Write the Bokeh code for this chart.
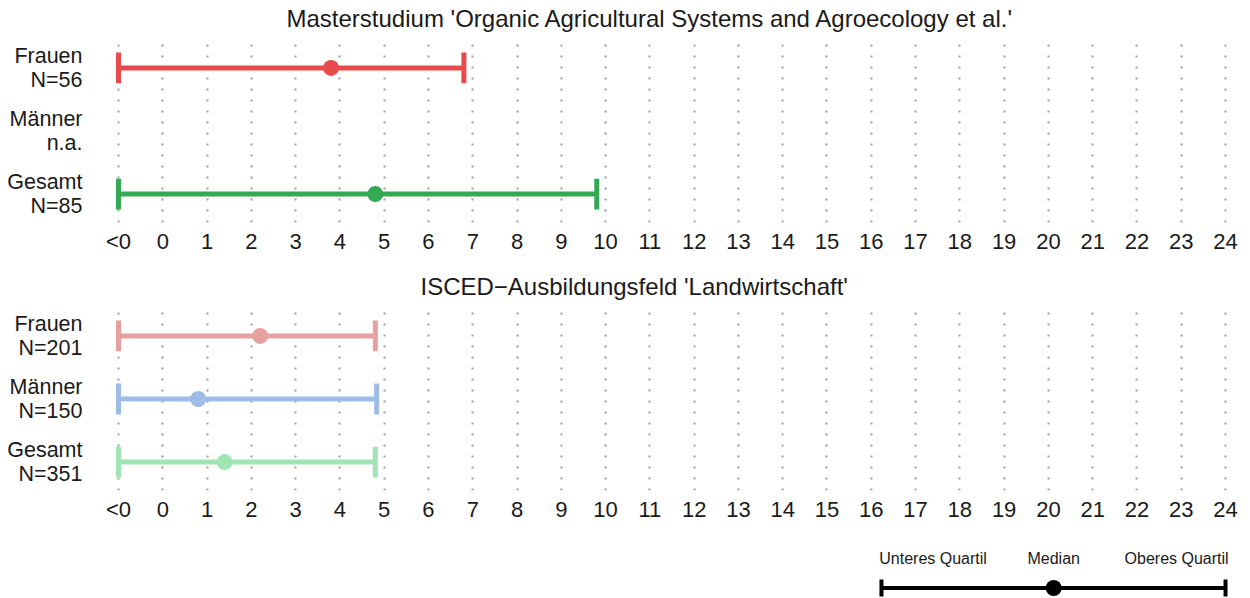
import math
from bokeh.plotting import figure
from bokeh.layouts import column
from bokeh.models import Range1d, FixedTicker, ColumnDataSource
from bokeh.core.properties import value
from bokeh.embed import file_html
from bokeh.resources import INLINE

FONT = "Liberation Sans"

# ---------------- data ----------------
groups = ["Frauen", "Männer", "Gesamt"]
group_pos = [2, 1, 0]

p1_title = "Masterstudium 'Organic Agricultural Systems and Agroecology et al.'"
p1_n = ["N=56", "n.a.", "N=85"]
p1_lower = [-1, math.nan, -1]        # -1 = "<0"
p1_median = [3.8, math.nan, 4.8]
p1_upper = [6.8, math.nan, 9.8]
p1_colors = ["#E84A4B", "#4A7FD0", "#34A853"]

p2_title = "ISCED\u2212Ausbildungsfeld 'Landwirtschaft'"
p2_n = ["N=201", "N=150", "N=351"]
p2_lower = [-1, -1, -1]
p2_median = [2.2, 0.8, 1.4]
p2_upper = [4.8, 4.83, 4.8]
p2_colors = ["#E6A0A0", "#9DBDE6", "#A0E6B4"]

x_ticks = list(range(-1, 25))
x_labels = {-1: "<0"}
for t in range(0, 25):
    x_labels[t] = str(t)

legend_labels = ["Unteres Quartil", "Median", "Oberes Quartil"]
legend_x = [16.23, 20.12, 24.0]

# ---------------- styling ----------------
FRAME_W = 1135
LEFT = 110
x_range = Range1d(-1.1807, 24.451)
CAP = 0.245
TEXT_COLOR = "#1a1a1a"


def blank(height):
    f = figure(frame_width=FRAME_W, frame_height=height, x_range=x_range,
               y_range=Range1d(0, height), output_backend="svg",
               toolbar_location=None, min_border_left=LEFT,
               min_border_right=0, min_border_top=0, min_border_bottom=0)
    f.axis.visible = False
    f.grid.visible = False
    f.outline_line_color = None
    return f


def title_fig(text, x_left):
    t = blank(39)
    t.text(x=[x_left], y=[21], text=[text], text_align="left",
           text_baseline="middle", text_font=value(FONT),
           text_font_size="24px", text_color=TEXT_COLOR)
    return t


def panel(ns, lower, median, upper, colors, border_bottom):
    p = figure(frame_width=FRAME_W, frame_height=183, x_range=x_range,
               y_range=Range1d(-0.45, 2.45), output_backend="svg",
               toolbar_location=None, min_border_left=LEFT,
               min_border_right=0, min_border_top=0,
               min_border_bottom=border_bottom)
    p.outline_line_color = None
    p.background_fill_color = "white"
    p.border_fill_color = "white"

    p.xaxis.ticker = FixedTicker(ticks=x_ticks)
    p.xaxis.major_label_overrides = x_labels
    p.yaxis.ticker = FixedTicker(ticks=group_pos)
    p.yaxis.major_label_overrides = {
        pos: f"{g}\n{n}" for pos, g, n in zip(group_pos, groups, ns)}
    for ax in (p.xaxis, p.yaxis):
        ax.axis_line_color = None
        ax.major_tick_line_color = None
        ax.minor_tick_line_color = None
        ax.major_label_text_font = FONT
        ax.major_label_text_color = TEXT_COLOR
    p.xaxis.major_label_text_font_size = "22px"
    p.yaxis.major_label_text_font_size = "21.5px"
    p.yaxis.major_label_text_line_height = 1.0
    p.xaxis.major_label_standoff = 0
    p.yaxis.major_label_standoff = 22

    p.xgrid.ticker = FixedTicker(ticks=x_ticks)
    p.xgrid.grid_line_color = "#9a9a9a"
    p.xgrid.grid_line_dash = "2 9"
    p.xgrid.grid_line_width = 2
    p.ygrid.grid_line_color = None

    ys, lo, me, up, cols = [], [], [], [], []
    for y, l, m, u, c in zip(group_pos, lower, median, upper, colors):
        if math.isnan(m):
            continue
        ys.append(y); lo.append(l); me.append(m); up.append(u); cols.append(c)
    src = ColumnDataSource(dict(y=ys, lo=lo, me=me, up=up, c=cols,
                                y0=[v - CAP for v in ys],
                                y1=[v + CAP for v in ys]))
    p.segment(x0="lo", y0="y", x1="up", y1="y", source=src, line_color="c",
              line_width=5, line_cap="butt")
    p.segment(x0="lo", y0="y0", x1="lo", y1="y1", source=src, line_color="c",
              line_width=5, line_cap="butt")
    p.segment(x0="up", y0="y0", x1="up", y1="y1", source=src, line_color="c",
              line_width=5, line_cap="butt")
    p.scatter(x="me", y="y", source=src, size=16, fill_color="c",
              line_color=None)
    return p


t1 = title_fig(p1_title, 2.794)
p1 = panel(p1_n, p1_lower, p1_median, p1_upper, p1_colors, 46)
t2 = title_fig(p2_title, 5.82)
p2 = panel(p2_n, p2_lower, p2_median, p2_upper, p2_colors, 40)

# legend key
pl = blank(68)
pl.segment(x0=[legend_x[0]], y0=[10.5], x1=[legend_x[2]], y1=[10.5],
           line_color="black", line_width=4, line_cap="butt")
pl.segment(x0=[legend_x[0], legend_x[2]], y0=[2, 2],
           x1=[legend_x[0], legend_x[2]], y1=[19, 19],
           line_color="black", line_width=4, line_cap="butt")
pl.scatter(x=[legend_x[1]], y=[10.5], size=16, fill_color="black",
           line_color=None)
aligns = ["left", "center", "right"]
shift = [-0.05, 0, 0.07]
for lab, lx, al, s in zip(legend_labels, legend_x, aligns, shift):
    pl.text(x=[lx + s], y=[40], text=[lab], text_align=al,
            text_baseline="middle", text_font=value(FONT),
            text_font_size="16px", text_color=TEXT_COLOR)

layout = column(t1, p1, t2, p2, pl, spacing=0)
open("out.html", "w").write(file_html(layout, INLINE))
